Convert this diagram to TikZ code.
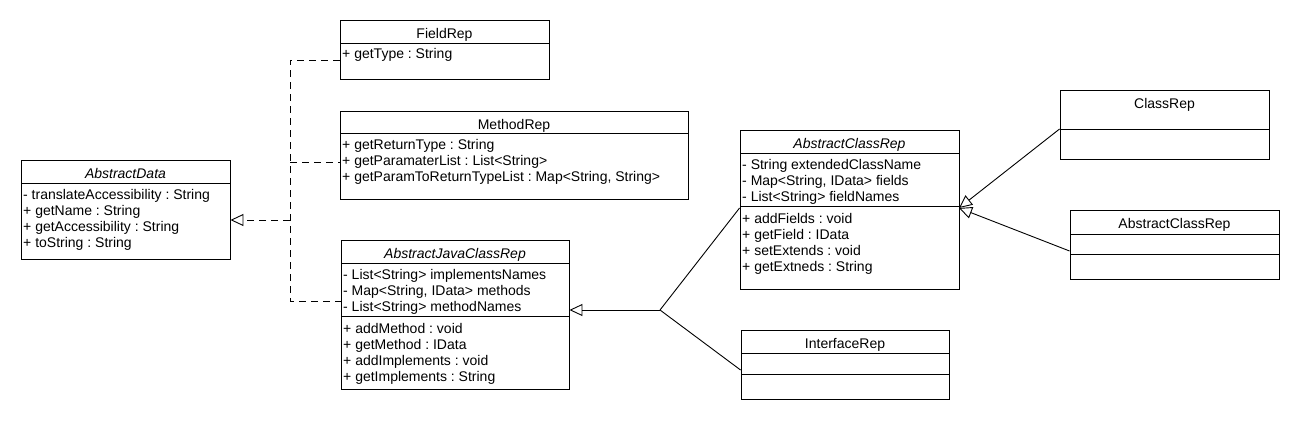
\documentclass[tikz,border=0pt]{standalone}
\usepackage{fontspec}
\setmainfont{Liberation Sans}
\frenchspacing
\usetikzlibrary{arrows.meta,fit}
\tikzset{
  x=1pt, y=-1pt,
  umlframe/.style={draw=black, line width=0.9pt, inner sep=0pt, fill=white},
  sepline/.style={draw=black, line width=0.9pt},
  ctitle/.style={inner sep=0pt, anchor=base, font=\fontsize{14}{16}\selectfont},
  atitle/.style={ctitle, font=\fontsize{14}{16}\selectfont\itshape},
  member/.style={inner sep=0pt, anchor=base west, font=\fontsize{14}{16}\selectfont},
  realize/.style={draw=black, line width=0.9pt, dash pattern=on 7pt off 5pt, -{Triangle[open, length=13pt, width=12pt]}},
  realline/.style={draw=black, line width=0.9pt, dash pattern=on 7pt off 5pt},
  inherit/.style={draw=black, line width=0.9pt, -{Triangle[open, length=13pt, width=12pt]}},
  plainline/.style={draw=black, line width=0.9pt},
}
% \umlclass{name}{x1}{y1}{x2}{y2}
\newcommand{\umlclass}[5]{%
  \coordinate (#1-nw) at (#2,#3);
  \coordinate (#1-se) at (#4,#5);
  \node[umlframe, fit=(#1-nw)(#1-se)] (#1) {};
}
\begin{document}
\begin{tikzpicture}
\useasboundingbox[fill=white] (0,0) rectangle (1300,420);

% ---------- AbstractData ----------
\umlclass{ad}{21}{160}{230}{259}
\draw[sepline] (21,183) -- (230,183);
\node[atitle] (ad-t) at (125.5,178) {AbstractData};
\foreach \t [count=\i] in {{- translateAccessibility : String},{+ getName : String},{+ getAccessibility : String},{+ toString : String}}
  \node[member] (ad-m\i) at (23,{183+16+16*(\i-1)}) {\t};

% ---------- FieldRep ----------
\umlclass{fr}{340}{20}{549}{79}
\draw[sepline] (340,43) -- (549,43);
\node[ctitle] (fr-t) at (444.5,38) {FieldRep};
\node[member] (fr-m1) at (342,59) {+ getType : String};

% ---------- MethodRep ----------
\umlclass{mr}{340}{111}{688}{199}
\draw[sepline] (340,133) -- (688,133);
\node[ctitle] (mr-t) at (514,129) {MethodRep};
\foreach \t [count=\i] in {{+ getReturnType : String},{+ getParamaterList : List<String>},{+ getParamToReturnTypeList : Map<String, String>}}
  \node[member] (mr-m\i) at (342,{133+16+16*(\i-1)}) {\t};

% ---------- AbstractJavaClassRep ----------
\umlclass{ajcr}{341}{240}{569}{389}
\draw[sepline] (341,263) -- (569,263);
\draw[sepline] (341,316) -- (569,316);
\node[atitle] (ajcr-t) at (455,258) {AbstractJavaClassRep};
\foreach \t [count=\i] in {{- List<String> implementsNames},{- Map<String, IData> methods},{- List<String> methodNames}}
  \node[member] (ajcr-a\i) at (343,{263+16+16*(\i-1)}) {\t};
\foreach \t [count=\i] in {{+ addMethod : void},{+ getMethod : IData},{+ addImplements : void},{+ getImplements : String}}
  \node[member] (ajcr-o\i) at (343,{316+17+16*(\i-1)}) {\t};

% ---------- AbstractClassRep (abstract) ----------
\umlclass{acr}{740}{130}{959}{289}
\draw[sepline] (740,153) -- (959,153);
\draw[sepline] (740,206) -- (959,206);
\node[atitle] (acr-t) at (849.5,148) {AbstractClassRep};
\foreach \t [count=\i] in {{- String extendedClassName},{- Map<String, IData> fields},{- List<String> fieldNames}}
  \node[member] (acr-a\i) at (742,{153+16+16*(\i-1)}) {\t};
\foreach \t [count=\i] in {{+ addFields : void},{+ getField : IData},{+ setExtends : void},{+ getExtneds : String}}
  \node[member] (acr-o\i) at (742,{206+17+16*(\i-1)}) {\t};

% ---------- ClassRep ----------
\umlclass{cr}{1060}{90}{1269}{159}
\draw[sepline] (1060,129) -- (1269,129);
\node[ctitle] (cr-t) at (1164.5,108) {ClassRep};

% ---------- AbstractClassRep (right) ----------
\umlclass{acr2}{1070}{210}{1279}{279}
\draw[sepline] (1070,234) -- (1279,234);
\draw[sepline] (1070,254) -- (1279,254);
\node[ctitle] (acr2-t) at (1174.5,228) {AbstractClassRep};

% ---------- InterfaceRep ----------
\umlclass{ir}{741}{330}{949}{399}
\draw[sepline] (741,353) -- (949,353);
\draw[sepline] (741,374) -- (949,374);
\node[ctitle] (ir-t) at (845,348) {InterfaceRep};

% ---------- Realization (dashed) ----------
\coordinate (rj-top) at (290,60);
\coordinate (rj-mid) at (290,220);
\coordinate (rj-m) at (290,162);
\coordinate (rj-bot) at (290,301);
\draw[realline] (fr.west |- rj-top) -- (rj-top) -- (rj-bot) -- (ajcr.west |- rj-bot);
\draw[realline] (rj-m) -- (mr.west |- rj-m);
\draw[realize] (rj-mid) -- (ad.east |- rj-mid);

% ---------- Inheritance to AbstractJavaClassRep ----------
\coordinate (ij) at (660,310);
\draw[inherit] (ij) -- (ajcr.east |- ij);
\draw[plainline] (ij) -- (acr.west |- 0,208);
\draw[plainline] (ij) -- (ir.west |- 0,370);

% ---------- Inheritance to AbstractClassRep ----------
\coordinate (ai) at (959,208);
\draw[inherit] (cr.west |- 0,129) -- (ai);
\draw[inherit] (acr2.west |- 0,251) -- (ai);
\end{tikzpicture}
\end{document}
